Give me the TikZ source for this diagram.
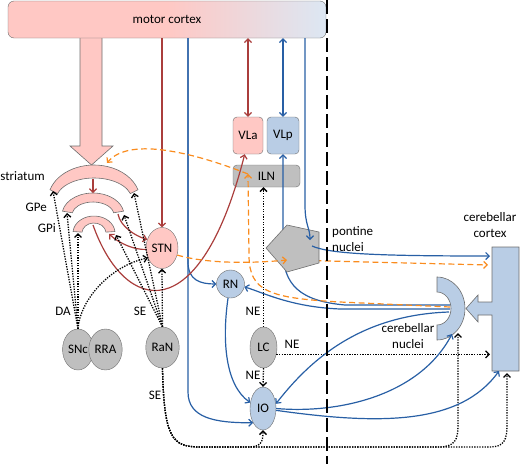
\documentclass[tikz,border=0pt]{standalone}
\usepackage{fontspec}
\setmainfont{Carlito}
\usetikzlibrary{arrows.meta,shapes.geometric}

\definecolor{rosa}{RGB}{255,200,196}
\definecolor{celeste}{RGB}{185,205,229}
\definecolor{celestecl}{RGB}{220,231,243}
\definecolor{gris}{RGB}{191,191,191}
\definecolor{borde}{RGB}{110,110,110}
\definecolor{rojo}{RGB}{170,62,60}
\definecolor{azul}{RGB}{40,95,165}
\definecolor{naranja}{RGB}{250,140,30}

\tikzset{
  punta/.tip={Straight Barb[length=3.5pt,width=7pt]},
  etiqueta/.style={font=\fontsize{13}{16}\selectfont, inner sep=1pt},
  caja/.style={draw=borde, rounded corners=4pt, inner sep=0pt, minimum height=37pt, etiqueta},
  nucleo/.style={ellipse, draw=borde, inner sep=0pt, minimum width=27pt, minimum height=41pt, etiqueta},
  bloque/.style={draw=borde, line width=0.6pt},
  linea/.style={line width=1.2pt, -punta},
  roja/.style={linea, draw=rojo},
  azulf/.style={linea, draw=azul},
  naranjaf/.style={linea, draw=naranja, dash pattern=on 6pt off 3.5pt},
  punteada/.style={linea, draw=black, line width=1.3pt, dash pattern=on 1.3pt off 1.3pt}
}

\begin{document}
\begin{tikzpicture}[x=1pt, y=-1pt]
  \useasboundingbox (0,0) rectangle (520,464);

  % Flecha gruesa de la corteza al estriado
  \draw[bloque, fill=rosa] (80,30) -- (80,146) -- (70,146) -- (91.5,165) -- (113,146) -- (102,146) -- (102,30) -- cycle;

  % Corteza motora
  \node[draw=borde, rounded corners=6pt, minimum width=318pt, minimum height=37pt, inner sep=0pt,
        left color=rosa, right color=celestecl, middle color=rosa, etiqueta] (mc) at (167,19.5) {motor cortex};
  \coordinate (mcRN) at (188,38);
  \coordinate (mcPN) at (305,38);

  % Ganglios basales
  \draw[bloque, fill=rosa, shift={(94,200)}] (197:46 and 35) arc[start angle=197, end angle=343, x radius=46, y radius=35]
    -- (343:38 and 22) arc[start angle=343, end angle=197, x radius=38, y radius=22] -- cycle;
  \draw[bloque, fill=rosa, shift={(93,215)}] (190:31 and 22) arc[start angle=190, end angle=350, x radius=31, y radius=22]
    -- (350:21 and 13) arc[start angle=350, end angle=190, x radius=21, y radius=13] -- cycle;
  \draw[bloque, fill=rosa, shift={(94,233)}] (185:21 and 17) arc[start angle=185, end angle=355, x radius=21, y radius=17]
    -- (355:12 and 10) arc[start angle=355, end angle=185, x radius=12, y radius=10] -- cycle;
  \coordinate (strI) at (93,179);
  \coordinate (strT) at (107,163);
  \coordinate (strL) at (53,191);
  \coordinate (strR) at (134,193);
  \coordinate (gpeT) at (93,193);
  \coordinate (gpeL) at (67,213);
  \coordinate (gpeR) at (124,215);
  \coordinate (gpeS) at (118,214);
  \coordinate (gpiL) at (78,233);
  \coordinate (gpiR) at (116,235);
  \coordinate (gpiS) at (109,234);
  \coordinate (gpiI) at (93,225);

  % Talamo y nucleos
  \node[caja, fill=rosa, minimum width=30pt] (VLa) at (248,135.5) {VLa};
  \node[caja, fill=celeste, minimum width=32pt] (VLp) at (283,135.5) {VLp};
  \node[caja, fill=gris, minimum width=67pt, minimum height=22pt] (ILN) at (266.5,176) {ILN};
  \coordinate (ilnA) at (248,174);
  \node[nucleo, fill=rosa] (STN) at (162,248) {STN};
  \node[nucleo, circle, fill=celeste, minimum size=28pt] (RN) at (230.5,284) {RN};
  \node[nucleo, fill=gris, minimum width=28pt] (SNc) at (78,349.5) {SNc};
  \node[nucleo, fill=gris] (RRA) at (105.5,349.5) {RRA};
  \node[nucleo, fill=gris, minimum width=29pt] (RaN) at (162.5,347.5) {RaN};
  \node[nucleo, fill=gris] (LC) at (263.5,347.5) {LC};
  \node[nucleo, fill=celeste, minimum width=26pt, minimum height=43pt] (IO) at (263,408.5) {IO};

  % Corteza cerebelosa
  \draw[bloque, fill=celeste] (519,247) -- (492,247) -- (492,302) -- (478,302) -- (478,295) -- (466,308.5)
    -- (478,322) -- (478,315) -- (492,315) -- (492,371) -- (519,371) -- cycle;
  \coordinate (ccA) at (490,256);
  \coordinate (ccB) at (488,265);
  \coordinate (ccC) at (490,356);
  \coordinate (ccD) at (499,371);
  \coordinate (ccF) at (507,373);

  % Nucleos cerebelosos
  \draw[bloque, fill=celeste] (437,277) arc[start angle=-90, end angle=90, x radius=28, y radius=31.5]
    -- (437,325) arc[start angle=90, end angle=-90, x radius=14, y radius=16.5] -- cycle;
  \coordinate (cnA) at (450,305);
  \coordinate (cnB) at (450,309);
  \coordinate (cnC) at (449,312);
  \coordinate (cnD) at (452,334);
  \coordinate (cnE) at (450,307);
  \coordinate (cnF) at (458,333);

  % Lineas bajo los nucleos pontinos
  \coordinate (pnO) at (287,260);
  \draw[azulf] (cnA) -- (345,305) .. controls (300,301) and (283,285) .. (283,250) -- (VLp.south);
  \draw[naranjaf] (pnO) -- (ccB);

  % Nucleos pontinos
  \draw[bloque, fill=gris] (266,248) -- (287,225) -- (319,232) -- (319,263) -- (287,272) -- cycle;
  \coordinate (PN) at (297,248);
  \coordinate (pnA) at (310,240);
  \coordinate (pnB) at (312,246);

  % Corteza motora hacia abajo
  \draw[roja] (mc.south -| STN.north) -- (STN.north);
  \draw[roja, punta-punta] (mc.south -| VLa.north) -- (VLa.north);
  \draw[azulf, punta-punta] (mc.south -| VLp.north) -- (VLp.north);
  \draw[azulf] (mcRN) -- (188,262) .. controls (188,280) and (200,284) .. (RN.west);
  \draw[azulf] (mcRN) -- (188,392) .. controls (188,418) and (215,423) .. (IO.235);
  \draw[azulf] (mcPN) -- (305,205) .. controls (305,225) and (310,228) .. (pnA);

  % Circuito de los ganglios basales
  \draw[roja] (strI) -- (gpeT);
  \draw[roja] (gpeS) .. controls (120,226) and (135,236) .. (STN.150);
  \draw[roja] (STN.185) .. controls (135,250) and (120,244) .. (gpiS);
  \draw[roja] (gpiI) .. controls (125,315) and (200,330) .. (VLa.260);

  % Dopamina y serotonina
  \foreach \p in {strL,gpeL,gpiL}
    \draw[punteada] (SNc.north) -- (\p);
  \draw[punteada] (SNc.north) .. controls (80,300) and (110,266) .. (STN.215);
  \foreach \p in {strR,gpeR,gpiR}
    \draw[punteada] (RaN.north) -- (\p);
  \draw[punteada] (RaN.north) -- (STN.south);
  \draw[punteada] (RaN.south) .. controls (164,438) and (172,447) .. (200,447) -- (248,447) .. controls (261,447) and (263,442) .. (IO.south);
  \draw[punteada] (RaN.south) .. controls (164,438) and (172,447) .. (200,447) -- (438,447) .. controls (455,447) and (458,440) .. (458,425) -- (cnF);
  \draw[punteada] (RaN.south) .. controls (164,438) and (172,447) .. (200,447) -- (490,447) .. controls (504,447) and (507,440) .. (507,425) -- (ccF);

  % Locus coeruleus
  \draw[punteada] (LC.north) -- (LC.north |- ILN.south);
  \draw[punteada] (LC.south) -- (IO.north);
  \draw[punteada] (LC.-28) -- (LC.-28 -| ccC);

  % Vias cerebelosas
  \draw[azulf] (pnB) .. controls (330,254) and (380,256) .. (ccA);
  \draw[naranjaf] (STN.-25) .. controls (205,263) and (245,264) .. (pnO);
  \draw[azulf] (cnB) -- (340,309) .. controls (290,307) and (262,292) .. (RN.-12);
  \draw[azulf] (RN.260) .. controls (222,340) and (225,385) .. (IO.155);
  \draw[azulf] (cnC) .. controls (360,315) and (310,360) .. (IO.20);
  \draw[azulf] (IO.east) .. controls (340,414) and (420,395) .. (cnD);
  \draw[azulf] (IO.-8) .. controls (380,425) and (460,425) .. (ccD);
  \draw[naranjaf] (cnE) -- (340,302) .. controls (270,298) and (249,292) .. (249,255) -- (ilnA);
  \draw[naranjaf] (ilnA) .. controls (200,155) and (130,135) .. (strT);

  % Etiquetas
  \node[etiqueta, anchor=east] (lstr) at (46,176) {striatum};
  \node[etiqueta, anchor=east] (lgpe) at (48,207) {GPe};
  \node[etiqueta, anchor=east] (lgpi) at (57,228) {GPi};
  \node[etiqueta] (lda) at (63,311) {DA};
  \node[etiqueta] (lse1) at (140,311) {SE};
  \node[etiqueta] (lse2) at (155,395) {SE};
  \node[etiqueta] (lne1) at (253,311) {NE};
  \node[etiqueta] (lne2) at (292,344) {NE};
  \node[etiqueta] (lne3) at (253,375) {NE};
  \node[etiqueta, align=left, anchor=west] (lpn) at (331,239) {pontine\\nuclei};
  \node[etiqueta, align=center] (lcc) at (490,225) {cerebellar\\cortex};
  \node[etiqueta, align=center] (lcn) at (408,336) {cerebellar\\nuclei};

  % Linea media
  \draw[line width=2pt, dash pattern=on 14pt off 5pt] (327,0) -- (327,464);
\end{tikzpicture}
\end{document}
